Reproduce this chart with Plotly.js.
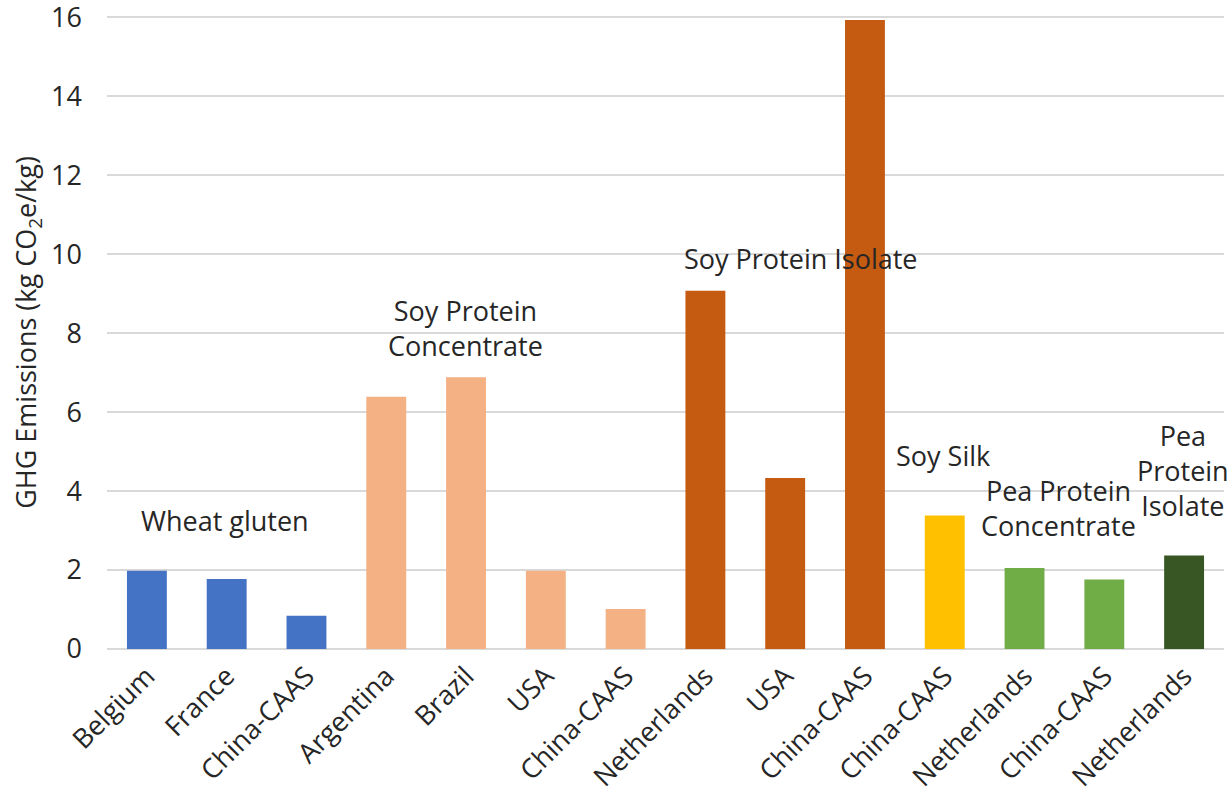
<!DOCTYPE html>
<html>
<head>
<meta charset="utf-8">
<script src="https://cdn.plot.ly/plotly-3.0.1.min.js"></script>
<style>html,body{margin:0;padding:0;background:#fff;}#chart{width:1229px;height:794px;}</style>
</head>
<body>
<div id="chart"></div>
<script>
// Data
const categories = ["Belgium","France","China-CAAS","Argentina","Brazil","USA","China-CAAS","Netherlands","USA","China-CAAS","China-CAAS","Netherlands","China-CAAS","Netherlands"];
const values = [1.98, 1.77, 0.84, 6.39, 6.88, 1.98, 1.01, 9.07, 4.33, 15.93, 3.38, 2.05, 1.76, 2.37];
const groupOf = ["wheat","wheat","wheat","spc","spc","spc","spc","spi","spi","spi","silk","ppc","ppc","ppi"];
const groupColors = {wheat:"#4472C4", spc:"#F4B183", spi:"#C55A11", silk:"#FFC000", ppc:"#70AD47", ppi:"#375623"};
const groupLabels = ["Wheat gluten","Soy Protein<br>Concentrate","Soy Protein Isolate","Soy Silk","Pea Protein<br>Concentrate","Pea<br>Protein<br>Isolate"];
const labelX = [0.98, 3.99, 8.2, 9.98, 11.42, 12.98];
const labelY = [3.25, 8.14, 9.88, 4.89, 3.56, 4.52];
const yTicks = [0,2,4,6,8,10,12,14,16];

const idx = categories.map((_, i) => i);
const font = "Open Sans, Noto Sans, sans-serif";
const txt = "#262626";
const fs = 27;

const trace = {
  type: "bar",
  x: idx,
  y: values,
  marker: {color: groupOf.map(g => groupColors[g]), line: {width: 0}},
  hoverinfo: "y"
};

const annotations = groupLabels.map((t, i) => ({
  text: t, x: labelX[i], y: labelY[i], xref: "x", yref: "y",
  showarrow: false, xanchor: "center", yanchor: "middle",
  font: {family: font, size: fs, color: txt}
}));

const layout = {
  width: 1229, height: 794,
  margin: {l: 107, r: 5, t: 16, b: 145},
  paper_bgcolor: "#fff", plot_bgcolor: "#fff",
  font: {family: font, size: fs, color: txt},
  showlegend: false,
  bargap: 0.5,
  xaxis: {
    range: [-0.5, 13.5],
    tickvals: idx, ticktext: categories,
    tickangle: -45,
    ticklabelstandoff: 5,
    showgrid: false, zeroline: false, showline: false,
    ticks: "", tickfont: {family: font, size: fs, color: txt}
  },
  yaxis: {
    range: [0, 16.03],
    tickvals: yTicks,
    showgrid: true, gridcolor: "#d9d9d9", gridwidth: 1.5,
    zeroline: true, zerolinecolor: "#d9d9d9", zerolinewidth: 1.5,
    showline: false, ticks: "",
    ticklabelstandoff: 24,
    ticklabeloverflow: "allow",
    tickfont: {family: font, size: fs, color: txt},
    title: {text: "GHG Emissions (kg CO<sub>2</sub>e/kg)", font: {family: font, size: fs, color: txt}, standoff: 6}
  },
  annotations: annotations
};

Plotly.newPlot("chart", [trace], layout, {displayModeBar: false, staticPlot: true});
</script>
</body>
</html>
